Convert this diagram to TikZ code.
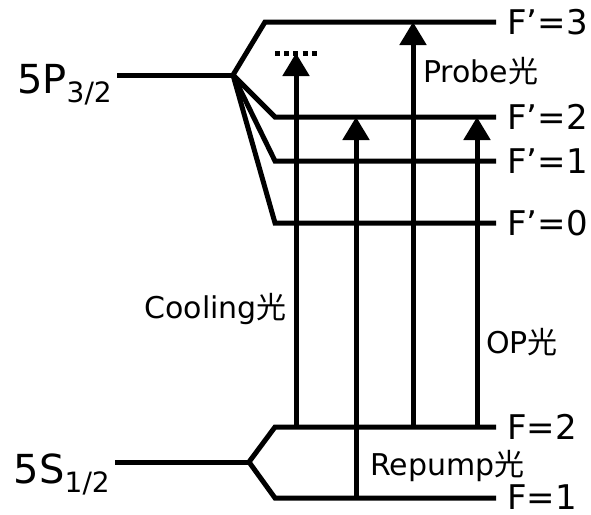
\documentclass[tikz,border=0pt]{standalone}
\usepackage{fontspec}
\setmainfont{DejaVu Sans}
\newfontfamily\cjk{Noto Sans CJK SC}
\usetikzlibrary{arrows.meta,calc}
\tikzset{
  level/.style={line width=5pt},
  level-dots/.style={line width=5pt,dash pattern=on 5pt off 4.2pt},
  arrow/.style={-{Triangle[length=23pt,width=26pt]},line width=5pt},
  label-term/.style={inner sep=0pt,font=\fontsize{40}{40}\selectfont},
  label-hf/.style={anchor=west,inner sep=0pt,font=\fontsize{34}{34}\selectfont},
  label-beam/.style={inner sep=0pt,font=\fontsize{30}{30}\selectfont},
}
\newcommand{\subterm}[1]{\raisebox{-9pt}{\fontsize{28}{28}\selectfont #1}}

\begin{document}
\begin{tikzpicture}[x=1pt,y=-1pt]
  \useasboundingbox (0,0) rectangle (591,514);
  % 5P_{3/2} und Hyperfeinniveaus
  \coordinate (P-a) at (117,75);
  \coordinate (P-o) at (233,75);
  \coordinate (F3-a) at (265,22);  \coordinate (F3-b) at (496,22);
  \coordinate (F2-a) at (275,117); \coordinate (F2-b) at (496,117);
  \coordinate (F1-a) at (275,161); \coordinate (F1-b) at (496,161);
  \coordinate (F0-a) at (275,223); \coordinate (F0-b) at (496,223);
  \coordinate (dots-a) at (275,53); \coordinate (dots-b) at (317,53);
  % 5S_{1/2}
  \coordinate (S-a) at (115,462);
  \coordinate (S-o) at (249,462);
  \coordinate (G2-a) at (275,427); \coordinate (G2-b) at (496,427);
  \coordinate (G1-a) at (275,498); \coordinate (G1-b) at (496,498);
  % Strahlen
  \coordinate (x-cool) at (296,0);
  \coordinate (x-rep) at (356,0);
  \coordinate (x-probe) at (413,0);
  \coordinate (x-op) at (477,0);

  \draw[level] (P-a) -- (P-o);
  \foreach \lv in {F3,F2,F1,F0}
    \draw[level] (P-o) -- (\lv-a) -- (\lv-b);
  \draw[level-dots] (dots-a) -- (dots-b);
  \draw[level] (S-a) -- (S-o);
  \foreach \lv in {G2,G1}
    \draw[level] (S-o) -- (\lv-a) -- (\lv-b);

  \draw[arrow] (x-cool |- G2-a) -- (x-cool |- dots-a);
  \draw[arrow] (x-rep |- G1-a) -- (x-rep |- F2-a);
  \draw[arrow] (x-probe |- G2-a) -- (x-probe |- F3-a);
  \draw[arrow] (x-op |- G2-a) -- (x-op |- F2-a);

  \node[label-term,anchor=base east] (P-lbl) at ($(P-a)+(-5,18)$) {5P\subterm{3/2}};
  \node[label-term,anchor=base east] (S-lbl) at ($(S-a)+(-5,21)$) {5S\subterm{1/2}};
  \node[label-hf] (F3-lbl) at ($(F3-b)+(11,0)$) {F’=3};
  \node[label-hf] (F2-lbl) at ($(F2-b)+(11,0)$) {F’=2};
  \node[label-hf] (F1-lbl) at ($(F1-b)+(11,0)$) {F’=1};
  \node[label-hf] (F0-lbl) at ($(F0-b)+(11,0)$) {F’=0};
  \node[label-hf] (G2-lbl) at ($(G2-b)+(11,0)$) {F=2};
  \node[label-hf] (G1-lbl) at ($(G1-b)+(11,-1)$) {F=1};

  \node[label-beam,anchor=base west] (probe-lbl) at ($(x-probe)+(10,82)$) {Probe{\cjk 光}};
  \node[label-beam,anchor=base east] (cool-lbl) at ($(x-cool)+(-9,318)$) {Cooling{\cjk 光}};
  \node[label-beam,anchor=base west] (op-lbl) at ($(x-op)+(9,353)$) {OP{\cjk 光}};
  \node[label-beam,anchor=base west] (rep-lbl) at ($(x-rep)+(14,475)$) {Repump{\cjk 光}};
\end{tikzpicture}
\end{document}
